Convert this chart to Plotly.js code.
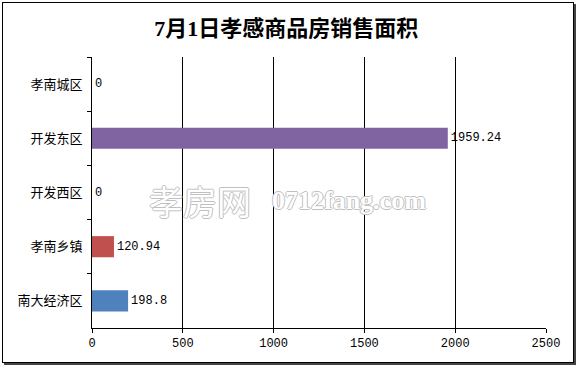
<!DOCTYPE html>
<html>
<head>
<meta charset="utf-8">
<script src="https://cdn.plot.ly/plotly-3.0.1.min.js"></script>
<style>
html,body{margin:0;padding:0;background:#fff;}
#frame{position:absolute;left:2px;top:2px;width:570px;height:359px;border:1px solid #000;box-shadow:2px 2px 0 #444;}
#chart{position:absolute;left:0;top:0;width:576px;height:366px;}
</style>
</head>
<body>
<div id="frame"></div>
<div id="chart"></div>
<script>
const categories = ["孝南城区", "开发东区", "开发西区", "孝南乡镇", "南大经济区"];
const values = [0, 1959.24, 0, 120.94, 198.8];
const labels = ["0", "1959.24", "0", "120.94", "198.8"];
const barColors = ["#8064A2", "#8064A2", "#8064A2", "#C0504D", "#4F81BD"];
const xTicks = [0, 500, 1000, 1500, 2000, 2500];

const monoFont = "Liberation Mono, DejaVu Sans Mono, monospace";
const cjkFont = "Noto Sans CJK SC, sans-serif";
const outline = "1px 0 0 #c0c0c0, -1px 0 0 #c0c0c0, 0 1px 0 #c0c0c0, 0 -1px 0 #c0c0c0";

const trace = {
  type: "bar",
  orientation: "h",
  y: categories,
  x: values,
  text: labels,
  textposition: "outside",
  cliponaxis: false,
  textfont: {family: monoFont, size: 12, color: "#000"},
  marker: {color: barColors},
  hoverinfo: "none"
};

const layout = {
  width: 576,
  height: 366,
  margin: {l: 92, r: 30, t: 57, b: 38},
  paper_bgcolor: "rgba(0,0,0,0)",
  plot_bgcolor: "rgba(0,0,0,0)",
  showlegend: false,
  bargap: 0.61,
  title: {
    text: "<b>7月1日孝感商品房销售面积</b>",
    x: 0.497, xanchor: "center",
    y: 0.923, yanchor: "middle",
    font: {family: "Liberation Serif, Noto Sans CJK SC, serif", size: 22, color: "#000"}
  },
  xaxis: {
    range: [0, 2500],
    tickvals: xTicks,
    ticktext: xTicks.map(String),
    showgrid: true,
    gridcolor: "#000",
    gridwidth: 1,
    showline: true,
    linecolor: "#000",
    linewidth: 1,
    ticks: "outside",
    ticklen: 4,
    tickcolor: "#000",
    zeroline: false,
    tickfont: {family: monoFont, size: 12, color: "#000"},
    fixedrange: true
  },
  yaxis: {
    type: "category",
    categoryorder: "array",
    categoryarray: categories,
    autorange: "reversed",
    showgrid: false,
    showline: true,
    linecolor: "#000",
    linewidth: 1,
    ticks: "outside",
    tickson: "boundaries",
    ticklen: 4,
    tickcolor: "#000",
    ticklabelstandoff: 6,
    tickfont: {family: cjkFont, size: 13, color: "#000"},
    fixedrange: true
  },
  annotations: [
    {
      text: "孝房网",
      xref: "paper", yref: "paper",
      x: 0.122, y: 0.47, xanchor: "left", yanchor: "middle",
      showarrow: false,
      font: {family: cjkFont, size: 34, color: "#ffffff", shadow: outline}
    },
    {
      text: "<b>0712fang.com</b>",
      xref: "paper", yref: "paper",
      x: 0.393, y: 0.47, xanchor: "left", yanchor: "middle",
      showarrow: false,
      font: {family: "Liberation Serif, serif", size: 26, color: "#ffffff", shadow: outline}
    }
  ]
};

Plotly.newPlot("chart", [trace], layout, {staticPlot: true, displayModeBar: false});
</script>
</body>
</html>
